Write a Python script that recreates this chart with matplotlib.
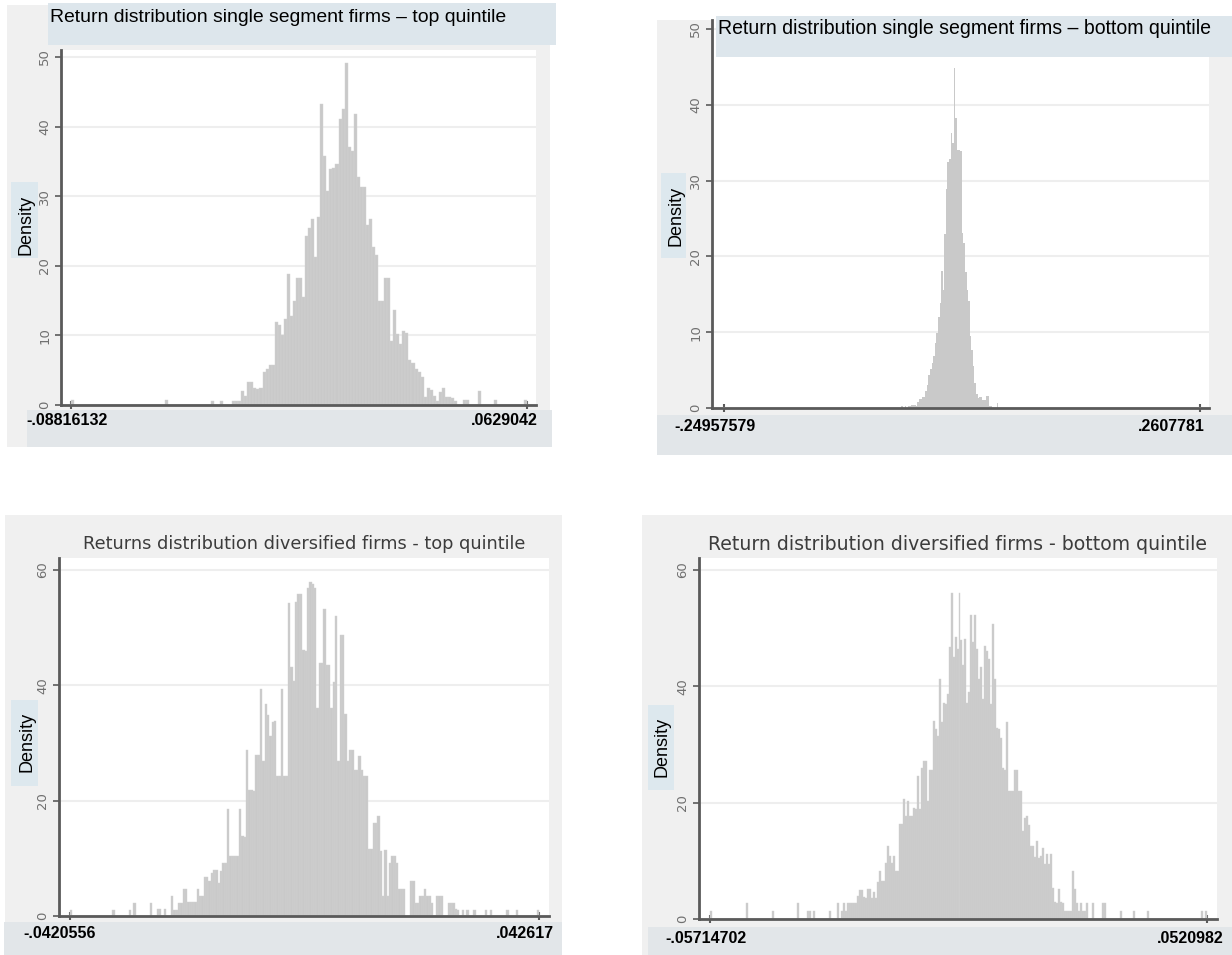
import matplotlib
matplotlib.use('Agg')
import matplotlib.pyplot as plt
from matplotlib.patches import Rectangle
import numpy as np

W, H = 1232, 955

# ---- data: histogram bar heights (density), one value per bin ----
p1_title = 'Return distribution single segment firms \u2013 top quintile'
p1_range = (-.08816132, .0629042)
p1_labels = ('-.08816132', '.0629042')
p1_yticks = [0, 10, 20, 30, 40, 50]
p1_heights = (
    [0.7] + [0] * 30 + [0.7] + [0] * 14 + [0.6, 0, 0, 0.6, 0, 0, 0, 0.6, 0.6, 0.6]
    + [2.0, 1.3, 3.3, 3.3, 2.5, 2.3, 2.5, 4.7, 5.2, 5.7, 5.7, 11.9, 11.5, 10.0]
    + [12.4, 18.8, 12.8, 15.0, 18.3, 18.3, 15.5, 24.3, 25.5, 26.7, 21.2, 27.0]
    + [43.2, 35.8, 30.8, 33.9, 34.1, 34.6, 41.1, 42.5, 49.2, 37.0, 36.5, 41.8]
    + [32.7, 31.3, 31.3, 25.8, 26.7, 22.7, 21.5, 15.0, 15.0, 18.3, 18.3, 9.2]
    + [13.6, 10.2, 8.8, 10.7, 10.4, 6.4, 6.1, 5.2, 4.7, 4.0, 1.1, 2.5, 2.1, 1.3]
    + [0.6, 1.8, 2.5, 1.1, 1.1, 1.0, 0.6, 0, 0, 0.7, 0.7, 0, 0, 0, 2.0]
    + [0, 0, 0, 0, 0.7] + [0] * 9 + [0.7]
)

p2_title = 'Return distribution single segment firms \u2013 bottom quintile'
p2_range = (-.24957579, .2607781)
p2_labels = ('-.24957579', '.2607781')
p2_yticks = [0, 10, 20, 30, 40, 50]
p2_nbins = 300
p2_first_bin = 112
p2_heights = [
    0.3, 0, 0.3, 0, 0.3, 0.3, 0.45, 0.45, 0.45, 0.3, 0.8, 1.2, 1.2, 1.5, 1.5,
    2.2, 3.0, 4.4, 5.1, 6.0, 6.8, 8.6, 9.9, 12.0, 13.9, 18.1, 15.6, 22.9, 28.9,
    32.4, 32.8, 36.3, 35.0, 44.9, 38.3, 34.1, 34.1, 33.9, 23.1, 21.8, 18.0,
    15.6, 14.1, 9.5, 7.7, 5.5, 3.3, 1.8, 1.3, 1.5, 1.5, 1.1, 1.1, 1.6, 1.6,
    0.3, 0.3, 0, 0, 0, 0.7,
]

p3_title = 'Returns distribution diversified firms - top quintile'
p3_range = (-.0420556, .042617)
p3_labels = ('-.0420556', '.042617')
p3_yticks = [0, 20, 40, 60]
p3_heights = (
    [1.1] + [0] * 17 + [1.1] + [0] * 6 + [1.1, 0, 2.3] + [0] * 6
    + [2.3, 0, 0, 1.2, 1.2, 0, 1.2, 0, 0, 3.5, 1.0, 1.0, 2.3, 2.3, 4.6, 4.6]
    + [2.5, 2.5, 2.5, 2.5, 4.6, 3.5, 3.5, 6.8, 6.8, 6.1, 7.5, 7.9, 7.9, 5.8]
    + [7.8, 9.2, 9.2, 18.5, 10.4, 10.4, 10.4, 10.4, 18.5, 13.9, 13.7]
    + [28.7, 21.8, 21.8, 21.7, 28.0, 28.0, 39.3, 26.9, 36.8, 34.9, 31.2, 33.7]
    + [33.8, 24.3, 24.3, 39.3, 24.3, 24.3, 54.3, 43.1, 40.8, 54.5, 55.8, 55.8]
    + [46.2, 46.0, 56.8, 58.0, 57.6, 56.8, 36.1, 43.9, 43.9, 53.2, 43.6, 43.6]
    + [36.1, 40.5, 52.0, 26.9, 48.8, 48.8, 35.0, 26.9, 28.7, 28.7, 25.4, 25.4]
    + [27.7, 25.4, 24.3, 24.3, 11.6, 11.6, 16.2, 16.2, 17.3, 11.3, 3.5, 11.4]
    + [3.5, 9.2, 10.4, 10.4, 9.2, 4.6, 4.6, 4.6, 0, 0, 6.1, 6.1, 2.3, 2.3]
    + [3.5, 3.5, 4.6, 3.5, 3.5, 2.3, 0, 3.5, 3.5, 3.5, 0, 0, 2.3, 2.3, 2.3]
    + [1.2, 1.0, 0, 1.0, 0, 1.0, 0, 0, 1.0, 0, 0, 0, 0, 1.1, 0, 1.1]
    + [0] * 6 + [1.1, 0, 0, 0, 1.1] + [0] * 8 + [1.1]
)

p4_title = 'Return distribution diversified firms - bottom quintile'
p4_range = (-.05714702, .0520982)
p4_labels = ('-.05714702', '.0520982')
p4_yticks = [0, 20, 40, 60]
p4_heights = (
    [1.3] + [0] * 17 + [2.7] + [0] * 12 + [1.3] + [0] * 12 + [2.8] + [0] * 4
    + [1.3, 1.3, 0, 1.3] + [0] * 7 + [1.3, 0, 0, 0]
    + [2.8, 0, 1.3, 2.8, 1.3, 2.8, 2.8, 2.8, 2.8, 2.8, 3.9, 4.9, 4.9, 3.8]
    + [3.6, 5.2, 5.2, 3.6, 4.6, 3.6, 6.3, 8.2, 6.5, 6.5, 9.7, 12.5, 10.9, 9.7]
    + [10.9, 8.2, 8.2, 16.3, 16.3, 20.6, 17.7, 20.3, 17.7, 17.7, 19.1, 18.9]
    + [24.5, 18.9, 26.0, 27.2, 27.2, 20.3, 25.7, 25.7, 34.1, 32.6, 31.5, 41.3]
    + [33.8, 37.2, 37.0, 38.7, 46.7, 56.1, 45.0, 48.4, 46.4, 56.1, 47.9, 43.6]
    + [48.2, 37.2, 39.0, 52.2, 47.6, 52.2, 46.4, 41.3, 43.3, 37.8, 47.0, 46.0]
    + [44.7, 37.0, 50.7, 41.3, 32.9, 32.6, 31.2, 26.0, 25.7, 33.8, 22.0, 22.0]
    + [22.0, 25.7, 25.7, 22.0, 22.0, 15.1, 17.4, 17.7, 16.1, 12.5, 12.5, 10.7]
    + [13.4, 10.5, 10.8, 12.2, 9.4, 11.1, 9.4, 11.1, 5.3, 2.9, 2.8, 5.2, 2.9]
    + [2.8, 1.3, 1.3, 1.3, 1.3, 8.2, 5.1, 2.8, 1.3, 2.8, 1.3, 1.3, 2.8, 0, 0]
    + [2.8, 0, 0, 0, 0, 2.8, 2.8] + [0] * 7 + [1.3] + [0] * 6 + [1.3]
    + [0] * 6 + [1.3] + [0] * 26 + [1.3, 0, 1.3]
)

# ---- styling ----
BG = '#f0f0f0'
TITLE_BOX = '#dde6ec'
DENS_BOX = '#dde8ee'
LABEL_BOX = '#e2e6e9'
BAR = '#c9c9c9'
BAR_EDGE = '#d3d3d3'
AXIS = '#5a5a5a'
ARIAL = ['Liberation Sans Narrow', 'Liberation Sans']


def px_box(x0, y0, x1, y1):
    return [x0 / W, 1 - y1 / H, (x1 - x0) / W, (y1 - y0) / H]


def rect(fig, x0, y0, x1, y1, color, z):
    l, b, w, h = px_box(x0, y0, x1, y1)
    fig.add_artist(Rectangle((l, b), w, h, transform=fig.transFigure,
                             facecolor=color, edgecolor='none', zorder=z))


def text(fig, x, y, s, **kw):
    return fig.text(x / W, 1 - y / H, s, **kw)


def fit_text(fig, x, y, s, width, **kw):
    # shrink/grow font until the string spans the measured width
    t = text(fig, x, y, s, **kw)
    r = fig.canvas.get_renderer()
    for _ in range(3):
        cur = t.get_window_extent(r).width
        t.set_fontsize(t.get_fontsize() * width / cur)
    return t


def panel(fig, heights, lo, hi, box, xt, yt, yticks):
    left, top, right, bottom = box
    per_px = (hi - lo) / (xt[1] - xt[0])
    ax = fig.add_axes(px_box(left, top, right, bottom))
    ax.set_facecolor('white')
    ax.set_xlim(lo - (xt[0] - left) * per_px, hi + (right - xt[1]) * per_px)
    unit_px = (bottom - yt[1]) / yticks[-1]
    ax.set_ylim(0, (bottom - top) / unit_px)

    edges = np.linspace(lo, hi, len(heights) + 1)
    lw = 0.3 if len(heights) < 280 else 0
    ax.bar(edges[:-1], heights, width=edges[1] - edges[0], align='edge',
           color=BAR, edgecolor=BAR_EDGE, linewidth=lw, zorder=2)

    for s in ('top', 'right'):
        ax.spines[s].set_visible(False)
    for s in ('left', 'bottom'):
        ax.spines[s].set_color(AXIS)
        ax.spines[s].set_linewidth(2)
        ax.spines[s].set_zorder(3)
    ax.set_yticks(yticks)
    ax.set_yticklabels([str(v) for v in yticks], rotation=90, va='center',
                       color='#707070', fontsize=9.5, family='DejaVu Sans')
    ax.tick_params(axis='y', length=4, width=1.2, color=AXIS, pad=3)
    ax.set_xticks([lo, hi])
    ax.set_xticklabels(['', ''])
    ax.tick_params(axis='x', length=6, width=1.5, color=AXIS, direction='inout')
    ax.yaxis.grid(True, color='#eeeeee', linewidth=1.5)
    ax.set_axisbelow(True)
    return ax


fig = plt.figure(figsize=(W / 100, H / 100), dpi=100)
fig.patch.set_facecolor('white')
fig.canvas.draw()

# --- top-left ---
rect(fig, 7, 5, 550, 447, BG, -5)
rect(fig, 27, 410, 552, 447, LABEL_BOX, -4)
rect(fig, 48, 3, 556, 45, TITLE_BOX, 5)
rect(fig, 11, 182, 38, 258, DENS_BOX, 5)
panel(fig, p1_heights, *p1_range, (61, 50, 536, 405), (71, 527), (405, 57), p1_yticks)
fit_text(fig, 50, 17, p1_title, 459, ha='left', va='center', family=ARIAL,
         fontsize=13, zorder=6)
text(fig, 26, 225, 'Density', rotation=90, ha='center', va='center',
     family='Liberation Sans', fontsize=13, zorder=6)
text(fig, 26, 420, p1_labels[0], ha='left', va='center', family='Liberation Sans',
     fontsize=11.5, fontweight='bold')
text(fig, 538, 420, p1_labels[1], ha='right', va='center', family='Liberation Sans',
     fontsize=11.5, fontweight='bold')

# --- top-right ---
p2_full = np.zeros(p2_nbins)
p2_full[p2_first_bin:p2_first_bin + len(p2_heights)] = p2_heights
rect(fig, 657, 20, 1232, 455, BG, -5)
rect(fig, 657, 415, 1232, 455, LABEL_BOX, -4)
rect(fig, 716, 16, 1232, 57, TITLE_BOX, 5)
rect(fig, 661, 173, 686, 258, DENS_BOX, 5)
panel(fig, p2_full, *p2_range, (712, 20, 1209, 408), (723.5, 1200), (408, 29), p2_yticks)
fit_text(fig, 718, 29, p2_title, 491, ha='left', va='center', family=ARIAL,
         fontsize=13, zorder=6)
text(fig, 676, 216, 'Density', rotation=90, ha='center', va='center',
     family='Liberation Sans', fontsize=13, zorder=6)
text(fig, 674, 426, p2_labels[0], ha='left', va='center', family='Liberation Sans',
     fontsize=11.5, fontweight='bold')
text(fig, 1205, 426, p2_labels[1], ha='right', va='center', family='Liberation Sans',
     fontsize=11.5, fontweight='bold')

# --- bottom-left ---
rect(fig, 5, 515, 562, 955, BG, -5)
rect(fig, 4, 922, 562, 955, LABEL_BOX, -4)
rect(fig, 11, 700, 38, 786, DENS_BOX, 5)
panel(fig, p3_heights, *p3_range, (59, 558, 549, 916), (70, 539), (916, 570), p3_yticks)
fit_text(fig, 304, 544, p3_title, 444, ha='center', va='center', family='DejaVu Sans',
         fontsize=11, color='#3c3c3c')
text(fig, 27, 742, 'Density', rotation=90, ha='center', va='center',
     family='Liberation Sans', fontsize=13, zorder=6)
text(fig, 23, 933, p3_labels[0], ha='left', va='center', family='Liberation Sans',
     fontsize=11.5, fontweight='bold')
text(fig, 554, 933, p3_labels[1], ha='right', va='center', family='Liberation Sans',
     fontsize=11.5, fontweight='bold')

# --- bottom-right ---
rect(fig, 642, 515, 1232, 955, BG, -5)
rect(fig, 648, 927, 1232, 955, LABEL_BOX, -4)
rect(fig, 648, 705, 674, 790, DENS_BOX, 5)
panel(fig, p4_heights, *p4_range, (699, 558, 1217, 919), (710, 1207), (919, 570), p4_yticks)
fit_text(fig, 958, 544, p4_title, 497, ha='center', va='center', family='DejaVu Sans',
         fontsize=11, color='#3c3c3c')
text(fig, 662, 747, 'Density', rotation=90, ha='center', va='center',
     family='Liberation Sans', fontsize=13, zorder=6)
text(fig, 665, 938, p4_labels[0], ha='left', va='center', family='Liberation Sans',
     fontsize=11.5, fontweight='bold')
text(fig, 1224, 938, p4_labels[1], ha='right', va='center', family='Liberation Sans',
     fontsize=11.5, fontweight='bold')

fig.savefig('out.png', dpi=100)
